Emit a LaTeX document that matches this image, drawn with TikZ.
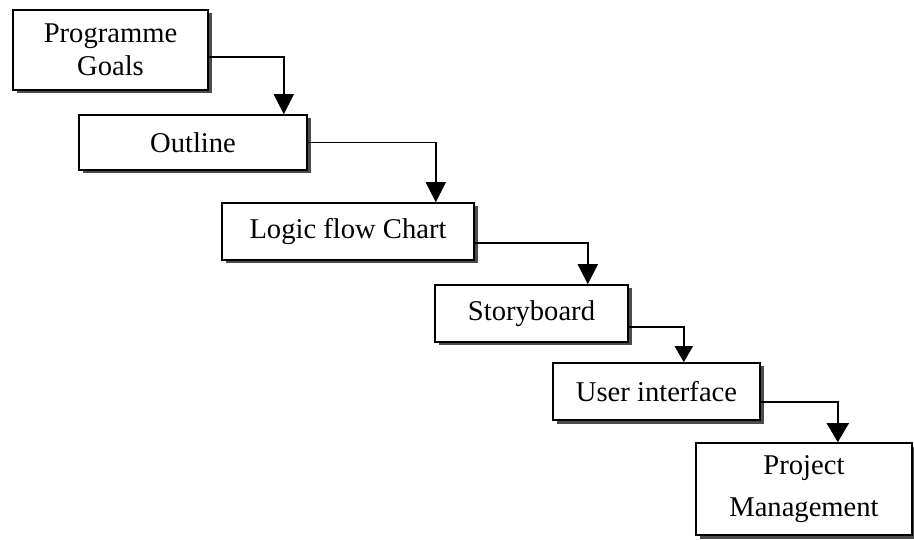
\documentclass[tikz,border=0pt]{standalone}
\usepackage{fontspec}
\setmainfont{Liberation Serif}
\usetikzlibrary{arrows.meta,shadows}
\begin{document}
\begin{tikzpicture}[x=1pt,y=-1pt,
  stage/.style={draw=black, line width=1.6pt, fill=white,
    inner sep=0pt, align=center,
    font=\fontsize{28.6}{33}\selectfont,
    general shadow={fill=black!70, shadow xshift=3.5pt, shadow yshift=-3.5pt}},
  flow/.style={line width=1.8pt, -{Triangle[length=20pt,width=20pt]}}
]
\useasboundingbox (0,0) rectangle (914,540);

% stages of the cascade, each placed by its centre
\node[stage, minimum width=195pt, minimum height=80pt] (goals)   at (110.5,50)   {Programme\\Goals};
\node[stage, minimum width=228pt, minimum height=55pt] (outline) at (193,142.5)  {Outline};
\node[stage, minimum width=252pt, minimum height=57pt] (logic)   at (348,231.5)  {Logic flow Chart};
\node[stage, minimum width=193pt, minimum height=57pt] (story)   at (531.5,313.5){Storyboard};
\node[stage, minimum width=207pt, minimum height=57pt] (ui)      at (656.5,391.5){User interface};
\node[stage, minimum width=216pt, minimum height=92pt,
      font=\fontsize{28.6}{42}\selectfont]                  (pm)      at (804,489)    {Project\\Management};

% elbow connectors between consecutive stages
\draw[flow] ([yshift=-7pt]goals.east)     -| ([xshift=-24pt]outline.north east);
\draw[flow] (outline.east)                -| ([xshift=-39pt]logic.north east);
\draw[flow] ([yshift=-11.5pt]logic.east)  -| ([xshift=-41pt]story.north east);
\draw[flow, -{Triangle[length=16pt,width=18pt]}]
            ([yshift=-13.5pt]story.east)  -| ([xshift=-77pt]ui.north east);
\draw[flow, -{Triangle[length=19pt,width=22pt]}]
            ([yshift=-10.5pt]ui.east)     -| ([xshift=-75pt]pm.north east);
\end{tikzpicture}
\end{document}
